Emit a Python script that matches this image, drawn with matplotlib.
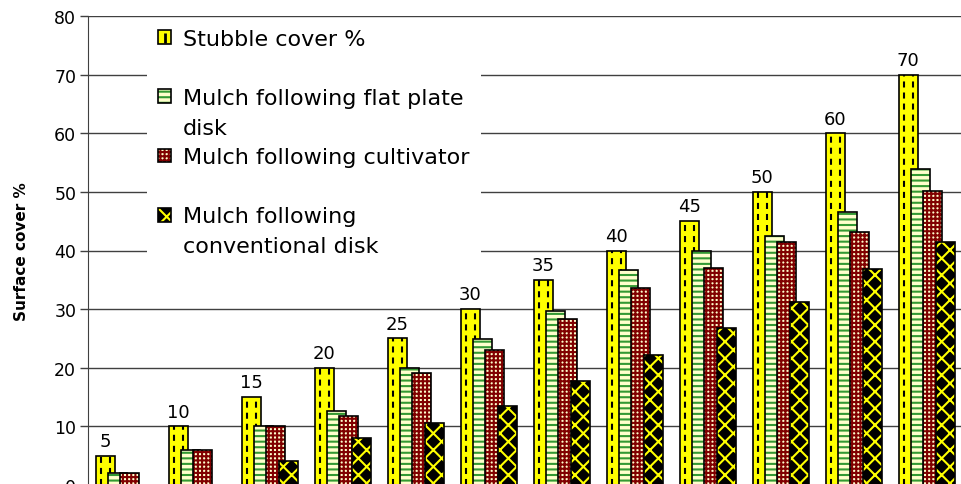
import numpy as np
import matplotlib.pyplot as plt
from matplotlib.lines import Line2D
from matplotlib.patches import Patch

plt.rcParams['font.family'] = 'DejaVu Sans'
plt.rcParams['hatch.linewidth'] = 1.5

# stubble cover % (also used as the group label above each group)
stubble = [5, 10, 15, 20, 25, 30, 35, 40, 45, 50, 60, 70]
flat_plate = [2.0, 6.0, 10.0, 12.6, 20.0, 24.9, 29.6, 36.6, 39.9, 42.4, 46.6, 53.9]
cultivator = [2.0, 6.0, 10.0, 11.8, 19.1, 23.1, 28.4, 33.6, 37.0, 41.5, 43.2, 50.1]
conventional = [0.0, 0.0, 4.1, 8.0, 10.5, 13.5, 17.8, 22.2, 26.8, 31.3, 36.9, 41.5]
labels = ['Stubble cover %', 'Mulch following flat plate\ndisk',
          'Mulch following cultivator', 'Mulch following\nconventional disk']
yticks = [0, 10, 20, 30, 40, 50, 60, 70, 80]

series = [stubble, flat_plate, cultivator, conventional]
# face colour, hatch, hatch colour
styles = [('#FFFF00', None, 'none'),
          ('#FFFFCC', '---', '#339933'),
          ('#FFFFCC', '++++', '#800000'),
          ('#000000', 'xx', '#FFFF00')]

fig = plt.figure(figsize=(9.61, 4.85), dpi=100)
ax = fig.add_axes([88 / 961, -1 / 485, 873 / 961, 469 / 485])

x = np.arange(len(stubble))
width = 0.26
step = 0.168

handles = []
for i, (vals, (face, hatch, hcol)) in enumerate(zip(series, styles)):
    pos = x + (i - 1.5) * step
    z = 2 + i
    fill = ax.bar(pos, vals, width, color=face, hatch=hatch, edgecolor=hcol,
                  linewidth=0, zorder=z)
    edge = ax.bar(pos, vals, width, fill=False, edgecolor='black',
                  linewidth=1.2, zorder=z + 0.2)
    if i == 0:
        # dashed vertical pattern of the stubble bars
        for off in (-width / 4, width / 4):
            ax.vlines(pos + off, 0, vals, colors='black', linestyles=(0, (2.9, 2.4)),
                      linewidth=1.5, zorder=z + 0.1)
        dash = Line2D([], [], marker='|', color='black', markersize=7,
                      markeredgewidth=2, linestyle='none')
        handles.append((fill[0], dash, edge[0]))
    else:
        handles.append((fill[0], edge[0]))

# value labels over the stubble bars
for xi, v in zip(x - 1.5 * step, stubble):
    ax.annotate(str(v), (xi, v), xytext=(0, 7), textcoords='offset points',
                ha='center', va='baseline', fontsize=13)

ax.set_ylim(0, 80)
ax.set_xlim(-0.49, 11.47)
ax.set_yticks(yticks)
ax.set_xticks([])
for side in ('top', 'right', 'bottom'):
    ax.spines[side].set_visible(False)
ax.spines['left'].set_color('#404040')
ax.yaxis.grid(True, color='#404040', linewidth=1)
ax.set_axisbelow(True)
ax.tick_params(axis='y', length=5.5, width=1, color='#404040', pad=3, labelsize=12.5)

ax.set_ylabel('Surface cover %', fontsize=11, fontweight='bold')
ax.yaxis.set_label_coords(-0.068, 0.5)

# each legend entry gets two line slots, swatch on the first line
blank = Patch(facecolor='none', edgecolor='none')
leg_handles, leg_labels = [], []
for h, lab in zip(handles, labels):
    lines = lab.split('\n') + [' ']
    leg_handles += [h, blank]
    leg_labels += lines[:2]
ax.legend(leg_handles, leg_labels, loc='upper left',
          bbox_to_anchor=(147 / 961, 1 - 19 / 485), bbox_transform=fig.transFigure,
          fontsize=16, frameon=True, fancybox=False, edgecolor='none',
          facecolor='white', framealpha=1, borderpad=0.5, labelspacing=0.43,
          handlelength=0.59, handleheight=0.59, handletextpad=0.54, borderaxespad=0)

fig.savefig('out.png', dpi=100)
